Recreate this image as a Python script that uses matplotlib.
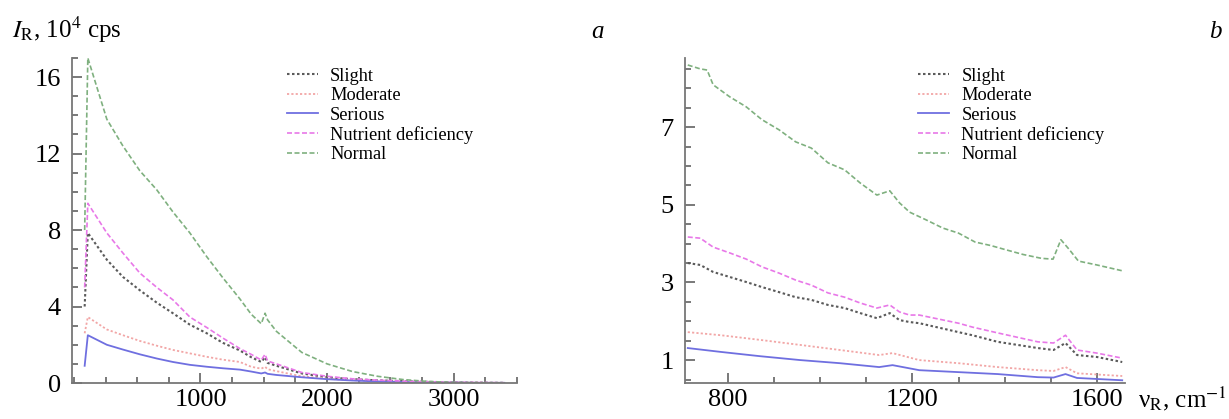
import matplotlib.pyplot as plt
from matplotlib.ticker import MultipleLocator, FixedLocator

plt.rcParams['font.family'] = ['Liberation Serif', 'DejaVu Serif']
plt.rcParams['mathtext.fontset'] = 'stix'

# ---- panel a: full spectrum ----
xa = [85, 110, 260, 387, 521, 655, 782, 916, 1050, 1177, 1311, 1400, 1480, 1510,
      1530, 1600, 1800, 2000, 2200, 2400, 2600, 2800, 3000, 3200, 3400]
normal_a = [8.0, 17.0, 13.8, 12.4, 11.1, 10.1, 8.95, 7.85, 6.6, 5.5, 4.4, 3.6, 3.1, 3.65,
            3.3, 2.7, 1.6, 1.0, 0.6, 0.35, 0.18, 0.08, 0.03, 0.01, 0.0]
nutrient_a = [5.0, 9.4, 7.85, 6.8, 5.75, 5.0, 4.35, 3.45, 2.9, 2.35, 1.8, 1.5, 1.2, 1.5,
              1.15, 1.0, 0.55, 0.35, 0.22, 0.15, 0.1, 0.06, 0.03, 0.02, 0.01]
slight_a = [4.0, 7.85, 6.45, 5.55, 4.85, 4.2, 3.65, 3.05, 2.6, 2.1, 1.7, 1.35, 1.1, 1.35,
            1.05, 0.9, 0.5, 0.3, 0.2, 0.14, 0.1, 0.06, 0.03, 0.02, 0.01]
moderate_a = [2.6, 3.45, 2.8, 2.5, 2.2, 1.95, 1.73, 1.55, 1.37, 1.22, 1.1, 0.85, 0.75, 0.85,
              0.72, 0.62, 0.35, 0.22, 0.15, 0.1, 0.06, 0.04, 0.03, 0.02, 0.01]
serious_a = [0.9, 2.5, 2.0, 1.75, 1.5, 1.28, 1.1, 0.95, 0.85, 0.77, 0.7, 0.6, 0.5, 0.55,
             0.48, 0.42, 0.3, 0.2, 0.13, 0.08, 0.05, 0.03, 0.02, 0.01, 0.01]

# ---- panel b: 700-1650 cm-1 ----
xb_n = [713, 740, 755, 768, 804, 840, 874, 911, 947, 981, 1017, 1053, 1087, 1123, 1151,
        1172, 1194, 1230, 1266, 1300, 1336, 1370, 1400, 1440, 1480, 1505, 1522, 1540,
        1560, 1600, 1655]
normal_b = [8.60, 8.50, 8.47, 8.09, 7.78, 7.52, 7.19, 6.93, 6.62, 6.46, 6.08, 5.90, 5.56,
            5.25, 5.36, 5.05, 4.81, 4.61, 4.40, 4.27, 4.04, 3.95, 3.85, 3.72, 3.62, 3.6,
            4.1, 3.85, 3.55, 3.45, 3.3]

xb_p = [713, 740, 768, 804, 840, 874, 911, 947, 981, 1017, 1053, 1087, 1123, 1151, 1172,
        1194, 1215, 1300, 1330, 1385, 1472, 1506, 1532, 1557, 1600, 1655]
nutrient_b = [4.17, 4.14, 3.91, 3.76, 3.60, 3.40, 3.24, 3.06, 2.93, 2.73, 2.62, 2.47, 2.34,
              2.42, 2.24, 2.16, 2.16, 1.95, 1.85, 1.70, 1.47, 1.44, 1.64, 1.26, 1.18, 1.05]
slight_b = [3.50, 3.45, 3.27, 3.14, 3.01, 2.88, 2.75, 2.62, 2.55, 2.42, 2.34, 2.21, 2.08,
            2.21, 2.03, 1.98, 1.95, 1.72, 1.64, 1.47, 1.31, 1.26, 1.44, 1.13, 1.08, 0.95]

xb_m = [713, 785, 870, 957, 1043, 1128, 1157, 1215, 1300, 1385, 1472, 1506, 1532, 1557, 1655]
moderate_b = [1.72, 1.64, 1.52, 1.39, 1.26, 1.13, 1.18, 1.0, 0.92, 0.82, 0.74, 0.72, 0.82,
              0.66, 0.59]
serious_b = [1.31, 1.21, 1.10, 1.0, 0.92, 0.82, 0.87, 0.74, 0.69, 0.64, 0.56, 0.55, 0.64,
             0.54, 0.48]

labels = ['Slight', 'Moderate', 'Serious', 'Nutrient deficiency', 'Normal']
colors = ['#5a5a5a', '#f2a6a6', '#6f6fe0', '#e878e8', '#7fb07f']
styles = [(0, (1.2, 1.2)), (0, (1.2, 1.2)), '-', (0, (3, 1.5)), (0, (3, 1.5))]
widths = [1.5, 1.3, 1.3, 1.2, 1.2]

fig = plt.figure(figsize=(12.29, 4.19), dpi=100)
W, H = 1229.0, 419.0
axa = fig.add_axes([72 / W, 36 / H, 445 / W, 325 / H])
axb = fig.add_axes([685 / W, 36 / H, 440 / W, 325 / H])

series_a = [slight_a, moderate_a, serious_a, nutrient_a, normal_a]
for ys, lab, c, s, w in zip(series_a, labels, colors, styles, widths):
    axa.plot(xa, ys, color=c, ls=s, lw=w, label=lab)

series_b = [(xb_p, slight_b), (xb_m, moderate_b), (xb_m, serious_b),
            (xb_p, nutrient_b), (xb_n, normal_b)]
for (xs, ys), lab, c, s, w in zip(series_b, labels, colors, styles, widths):
    axb.plot(xs, ys, color=c, ls=s, lw=w, label=lab)

axa.set_xlim(-15, 3500)
axa.set_ylim(0, 17)
axa.xaxis.set_major_locator(FixedLocator([1000, 2000, 3000]))
axa.xaxis.set_minor_locator(MultipleLocator(250))
axa.yaxis.set_major_locator(MultipleLocator(4))
axa.yaxis.set_minor_locator(MultipleLocator(1))

axb.set_xlim(707, 1661)
axb.set_ylim(0.41, 8.78)
axb.xaxis.set_major_locator(FixedLocator([800, 1200, 1600]))
axb.xaxis.set_minor_locator(MultipleLocator(100))
axb.yaxis.set_major_locator(FixedLocator([1, 3, 5, 7]))
axb.yaxis.set_minor_locator(MultipleLocator(0.5))

for ax, lx in ((axa, 0.483), (axb, 0.53)):
    for sp in ('top', 'right'):
        ax.spines[sp].set_visible(False)
    for sp in ('left', 'bottom'):
        ax.spines[sp].set_color('#777777')
        ax.spines[sp].set_linewidth(1.3)
    ax.tick_params(which='both', direction='in', color='#555555', width=1.1,
                   labelsize=19)
    ax.tick_params(axis='x', which='both', pad=4)
    ax.tick_params(axis='y', which='both', pad=8)
    ax.tick_params(which='major', length=7)
    ax.tick_params(which='minor', length=4)
    ax.legend(loc='upper left', bbox_to_anchor=(lx, 0.97), frameon=False,
              fontsize=13.2, handlelength=1.7, handletextpad=0.65,
              labelspacing=0.13, borderaxespad=0, borderpad=0)
    ax.patch.set_alpha(0)

fig.text(12 / W, 1 - 38 / H, r'$\mathit{I}_{\mathrm{R}}$, 10$^4$ cps', fontsize=18,
         ha='left', va='baseline')
fig.text(597 / W, 1 - 38 / H, 'a', fontsize=18, style='italic', ha='center',
         va='baseline')
fig.text(1215 / W, 1 - 38 / H, 'b', fontsize=18, style='italic', ha='center',
         va='baseline')
fig.text(1227 / W, 1 - 407 / H, r'ν$_{\mathrm{R}}$, cm$^{-1}$', fontsize=18,
         ha='right', va='baseline')

fig.savefig('out.png', dpi=100)
